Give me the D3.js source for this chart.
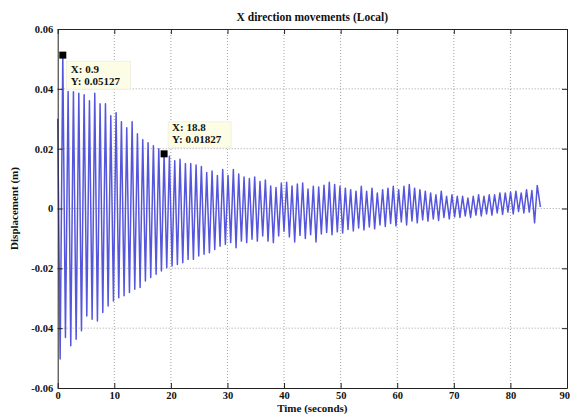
<!DOCTYPE html>
<html>
<head>
<meta charset="utf-8">
<script src="https://cdn.jsdelivr.net/npm/d3@7"></script>
<style>
  html, body { margin: 0; padding: 0; background: #fff; }
  svg { display: block; }
  text { font-family: "Liberation Serif", "DejaVu Serif", serif; font-weight: bold; fill: #111; }
</style>
</head>
<body>
<svg id="chart" width="570" height="414"></svg>
<script>
// ---------------- data ----------------
const title = "X direction movements (Local)";
const xLabel = "Time (seconds)";
const yLabel = "Displacement (m)";
const xTicks = [0, 10, 20, 30, 40, 50, 60, 70, 80, 90];
const yTicks = [-0.06, -0.04, -0.02, 0, 0.02, 0.04, 0.06];
const yTickLabels = ["-0.06", "-0.04", "-0.02", "0", "0.02", "0.04", "0.06"];

const startPoint = [0, 0.030];
const endPoint = [85.3, 0.0005];

const troughTime = [0.43, 1.37, 2.31, 3.26, 4.20, 5.14, 6.08, 7.02, 7.97, 8.91,
  9.85, 10.79, 11.73, 12.68, 13.62, 14.56, 15.50, 16.44, 17.39, 18.33,
  19.27, 20.21, 21.15, 22.10, 23.04, 23.98, 24.92, 25.86, 26.81, 27.75,
  28.69, 29.63, 30.57, 31.52, 32.46, 33.40, 34.34, 35.28, 36.23, 37.17,
  38.11, 39.05, 39.99, 40.94, 41.88, 42.82, 43.76, 44.70, 45.65, 46.59,
  47.53, 48.47, 49.41, 50.36, 51.30, 52.24, 53.18, 54.12, 55.07, 56.01,
  56.95, 57.89, 58.83, 59.78, 60.72, 61.66, 62.60, 63.54, 64.49, 65.43,
  66.37, 67.31, 68.25, 69.20, 70.14, 71.08, 72.02, 72.96, 73.91, 74.85,
  75.79, 76.73, 77.67, 78.62, 79.56, 80.50, 81.44, 82.38, 83.33, 84.27];

const troughValue = [-0.0503, -0.0431, -0.0459, -0.0437, -0.0409, -0.0359, -0.0370, -0.0376, -0.0348, -0.0326,
  -0.0309, -0.0298, -0.0292, -0.0281, -0.0270, -0.0264, -0.0242, -0.0231, -0.0220, -0.0209,
  -0.0198, -0.0192, -0.0187, -0.0181, -0.0170, -0.0170, -0.0159, -0.0153, -0.0148, -0.0137,
  -0.0126, -0.0120, -0.0114, -0.0131, -0.0109, -0.0114, -0.0103, -0.0109, -0.0092, -0.0109,
  -0.0114, -0.0092, -0.0076, -0.0095, -0.0112, -0.0090, -0.0100, -0.0088, -0.0112, -0.0085,
  -0.0080, -0.0088, -0.0078, -0.0082, -0.0070, -0.0075, -0.0065, -0.0072, -0.0062, -0.0068,
  -0.0055, -0.0060, -0.0050, -0.0058, -0.0045, -0.0055, -0.0042, -0.0048, -0.0038, -0.0042,
  -0.0035, -0.0040, -0.0030, -0.0035, -0.0028, -0.0030, -0.0025, -0.0030, -0.0022, -0.0025,
  -0.0018, -0.0022, -0.0015, -0.0020, -0.0012, -0.0018, -0.0010, -0.0015, -0.0012, -0.0048];

const peakTime = [0.90, 1.84, 2.78, 3.73, 4.67, 5.61, 6.55, 7.49, 8.44, 9.38,
  10.32, 11.26, 12.20, 13.15, 14.09, 15.03, 15.97, 16.91, 17.86, 18.80,
  19.74, 20.68, 21.62, 22.57, 23.51, 24.45, 25.39, 26.33, 27.28, 28.22,
  29.16, 30.10, 31.04, 31.99, 32.93, 33.87, 34.81, 35.75, 36.70, 37.64,
  38.58, 39.52, 40.46, 41.41, 42.35, 43.29, 44.23, 45.17, 46.12, 47.06,
  48.00, 48.94, 49.88, 50.83, 51.77, 52.71, 53.65, 54.59, 55.54, 56.48,
  57.42, 58.36, 59.30, 60.25, 61.19, 62.13, 63.07, 64.01, 64.96, 65.90,
  66.84, 67.78, 68.72, 69.67, 70.61, 71.55, 72.49, 73.43, 74.38, 75.32,
  76.26, 77.20, 78.14, 79.09, 80.03, 80.97, 81.91, 82.85, 83.80, 84.74];

const peakValue = [0.0513, 0.0391, 0.0390, 0.0385, 0.0380, 0.0360, 0.0385, 0.0350, 0.0350, 0.0310,
  0.0320, 0.0290, 0.0270, 0.0290, 0.0250, 0.0230, 0.0220, 0.0210, 0.0200, 0.0183,
  0.0175, 0.0160, 0.0165, 0.0150, 0.0150, 0.0145, 0.0140, 0.0120, 0.0125, 0.0110,
  0.0130, 0.0110, 0.0130, 0.0115, 0.0105, 0.0100, 0.0105, 0.0090, 0.0095, 0.0075,
  0.0070, 0.0085, 0.0088, 0.0075, 0.0082, 0.0085, 0.0065, 0.0074, 0.0072, 0.0078,
  0.0088, 0.0080, 0.0074, 0.0068, 0.0063, 0.0058, 0.0074, 0.0058, 0.0068, 0.0052,
  0.0063, 0.0068, 0.0074, 0.0063, 0.0074, 0.0080, 0.0068, 0.0063, 0.0058, 0.0052,
  0.0046, 0.0058, 0.0041, 0.0046, 0.0041, 0.0041, 0.0035, 0.0041, 0.0046, 0.0041,
  0.0046, 0.0046, 0.0052, 0.0052, 0.0055, 0.0058, 0.0052, 0.0063, 0.0060, 0.0077];

const tipX = [0.9, 18.8];
const tipY = [0.05127, 0.01827];
const tipXText = ["X: 0.9", "X: 18.8"];
const tipYText = ["Y: 0.05127", "Y: 0.01827"];

// ---------------- build ----------------
const points = [startPoint];
for (let k = 0; k < peakTime.length; k++) {
  points.push([troughTime[k], troughValue[k]]);
  points.push([peakTime[k], peakValue[k]]);
}
points.push(endPoint);

const svg = d3.select("#chart");
const L = 57.7, R = 567, T = 29, B = 388;
const x = d3.scaleLinear().domain([0, 90]).range([L, R]);
const y = d3.scaleLinear().domain([-0.06, 0.06]).range([B, T]);

// grid
const grid = svg.append("g").attr("stroke", "#8a8a8a").attr("stroke-width", 0.8).attr("stroke-dasharray", "1,2");
grid.selectAll("line.gx").data(xTicks.slice(1, -1)).join("line")
  .attr("x1", d => x(d)).attr("x2", d => x(d)).attr("y1", T).attr("y2", B);
grid.selectAll("line.gy").data(yTicks.slice(1, -1)).join("line")
  .attr("y1", d => y(d)).attr("y2", d => y(d)).attr("x1", L).attr("x2", R);

// signal
svg.append("path")
  .datum(points)
  .attr("fill", "none")
  .attr("stroke", "#5656dc")
  .attr("stroke-width", 1.5)
  .attr("stroke-linejoin", "round")
  .attr("d", d3.line().x(d => x(d[0])).y(d => y(d[1])));

// axes (ticks inward, on all four sides)
const fmtY = d => yTickLabels[yTicks.indexOf(d)];
const axB = svg.append("g").attr("transform", `translate(0,${B})`)
  .call(d3.axisBottom(x).tickValues(xTicks).tickSize(-5).tickPadding(4).tickSizeOuter(0));
const axT = svg.append("g").attr("transform", `translate(0,${T})`)
  .call(d3.axisTop(x).tickValues(xTicks).tickSize(-5).tickFormat("").tickSizeOuter(0));
const axLft = svg.append("g").attr("transform", `translate(${L},0)`)
  .call(d3.axisLeft(y).tickValues(yTicks).tickSize(-5).tickPadding(4.5).tickFormat(fmtY).tickSizeOuter(0));
const axRgt = svg.append("g").attr("transform", `translate(${R},0)`)
  .call(d3.axisRight(y).tickValues(yTicks).tickSize(-5).tickFormat("").tickSizeOuter(0));
[axB, axT, axLft, axRgt].forEach(a => {
  a.selectAll(".domain").attr("stroke", "#222").attr("stroke-width", 1);
  a.selectAll(".tick line").attr("stroke", "#222");
  a.selectAll("text").attr("font-family", "Liberation Serif, serif").attr("font-weight", "bold")
    .attr("font-size", 10.5).attr("fill", "#111");
});
// keep the last x tick label inside the window
axB.selectAll(".tick text").filter(d => d === xTicks[xTicks.length - 1])
  .attr("text-anchor", "end").attr("dx", 2.5);

// titles
svg.append("text").attr("x", (L + R) / 2).attr("y", 21).attr("text-anchor", "middle")
  .attr("font-size", 11.5).text(title);
svg.append("text").attr("x", (L + R) / 2).attr("y", 412).attr("text-anchor", "middle")
  .attr("font-size", 11).text(xLabel);
svg.append("text").attr("transform", `translate(18,${(T + B) / 2}) rotate(-90)`)
  .attr("text-anchor", "middle").attr("font-size", 11).text(yLabel);

// datatips
const tipBox = [[3.5, 6, 64, 28], [4, -32, 63, 26]];
const tipText = [[8, 18, 30], [8, -23, -11]];
tipX.forEach((tx, i) => {
  const px = x(tx), py = y(tipY[i]);
  const b = tipBox[i], t = tipText[i];
  svg.append("rect").attr("x", px + b[0]).attr("y", py + b[1]).attr("width", b[2]).attr("height", b[3])
    .attr("fill", "#fdfde6").attr("stroke", "#e8e8d8").attr("stroke-width", 0.6);
  svg.append("text").attr("x", px + t[0]).attr("y", py + t[1]).attr("font-size", 11).text(tipXText[i]);
  svg.append("text").attr("x", px + t[0]).attr("y", py + t[2]).attr("font-size", 11).text(tipYText[i]);
  svg.append("rect").attr("x", px - 3.5).attr("y", py - 3.5).attr("width", 7).attr("height", 7).attr("fill", "#000");
});
</script>
</body>
</html>
